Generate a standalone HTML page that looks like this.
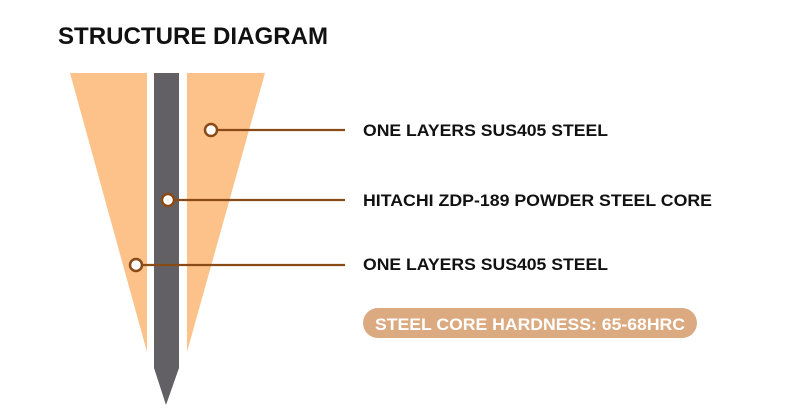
<!DOCTYPE html>
<html><head><meta charset="utf-8"><style>html,body{margin:0;padding:0;background:#fff;}svg{display:block}</style></head>
<body>
<svg width="812" height="416" viewBox="0 0 812 416" xmlns="http://www.w3.org/2000/svg" font-family="Liberation Sans, sans-serif" font-weight="bold">
<rect width="812" height="416" fill="#fff"/>
<text x="58" y="44" font-size="24" fill="#111" textLength="270" lengthAdjust="spacingAndGlyphs">STRUCTURE DIAGRAM</text>
<polygon points="70,73 147,73 147,352" fill="#fdc289"/>
<polygon points="187,73 265,73 187,352" fill="#fdc289"/>
<polygon points="154,73 179,73 179,368 166,405 154,368" fill="#626065"/>
<g stroke="#8a4a16" stroke-width="2.2">
<line x1="217" y1="130" x2="345" y2="130"/>
<line x1="174" y1="200" x2="345" y2="200"/>
<line x1="142" y1="265" x2="345" y2="265"/>
</g>
<g fill="#fff" stroke="#8a4a16" stroke-width="2.5">
<circle cx="211" cy="130" r="6"/>
<circle cx="168" cy="200" r="6"/>
<circle cx="136" cy="265" r="6"/>
</g>
<g font-size="17" fill="#111">
<text x="363" y="136" textLength="245" lengthAdjust="spacingAndGlyphs">ONE LAYERS SUS405 STEEL</text>
<text x="363" y="206" textLength="349" lengthAdjust="spacingAndGlyphs">HITACHI ZDP-189 POWDER STEEL CORE</text>
<text x="363" y="270" textLength="245" lengthAdjust="spacingAndGlyphs">ONE LAYERS SUS405 STEEL</text>
</g>
<rect x="363" y="308" width="334" height="30" rx="15" fill="#dcaa80"/>
<text x="375" y="330" font-size="17" fill="#fff" textLength="310" lengthAdjust="spacingAndGlyphs">STEEL CORE HARDNESS: 65-68HRC</text>
</svg>
</body></html>
